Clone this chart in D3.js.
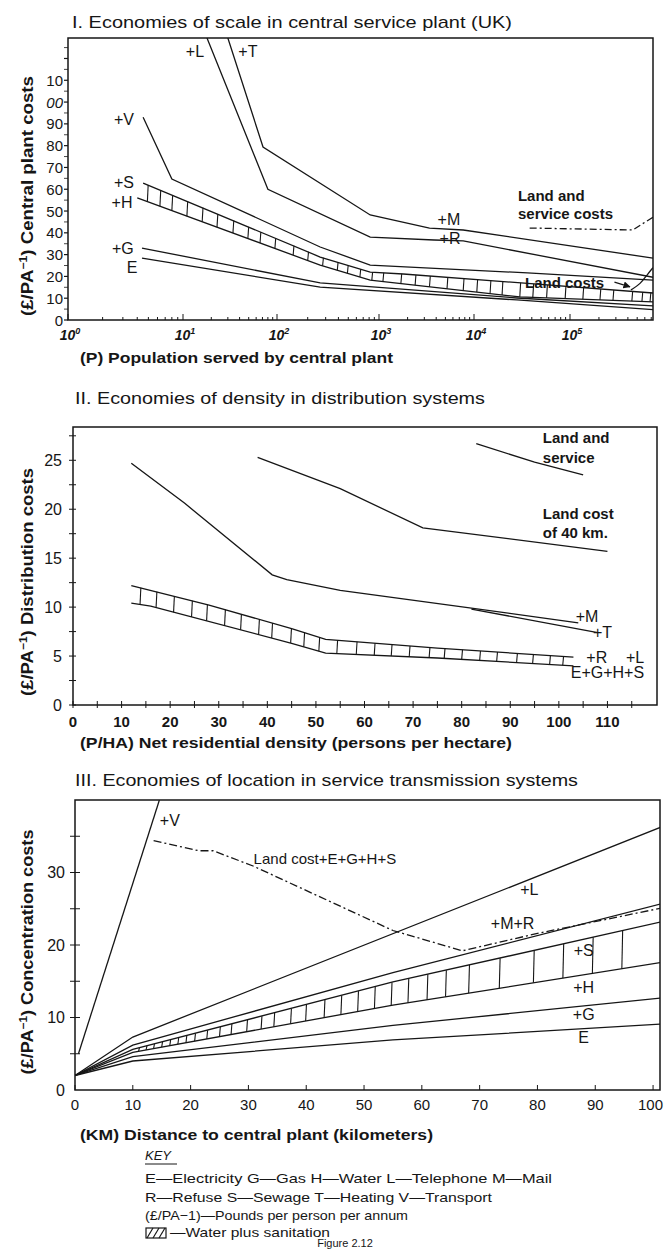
<!DOCTYPE html>
<html>
<head>
<meta charset="utf-8">
<script src="https://cdn.jsdelivr.net/npm/d3@7"></script>
<style>
  body { margin: 0; background: #fff; }
  svg { display: block; font-family: "Liberation Sans", Arial, Helvetica, sans-serif; }
</style>
</head>
<body>
<svg id="fig" width="664" height="1249"></svg>
<script>
// --- Panel I: economies of scale (population, log axis) ---
const p1XTicks = [1, 10, 100, 1e3, 1e4, 1e5];
const p1XMax = 7.3e5;
const p1YTicks = [0, 10, 20, 30, 40, 50, 60, 70, 80, 90, 100, 110];
const p1YLabels = ['0', '10', '20', '30', '40', '50', '60', '70', '80', '90', '00', '10'];
const p1T = [[30, 129.4], [71, 79.4], [820, 48.2], [3400, 42.2], [7700, 41.3], [7.3e5, 28.4]];
const p1L = [[18, 129.4], [80, 60], [820, 38], [3800, 36.7], [7700, 36.3], [7.3e5, 19.6]];
const p1V = [[4.5, 93], [8, 64.7], [265, 33.5], [820, 25.2], [36000, 21.6], [7.3e5, 18.3]];
const p1S = [[4.5, 62.8], [265, 28.9], [820, 22], [1800, 21.1], [7.3e5, 12.4]];
const p1H = [[4, 56], [265, 25.2], [820, 18.3], [30000, 10.6], [7.3e5, 8.3]];
const p1G = [[4.4, 33], [265, 17], [28000, 10.1], [7.3e5, 6.5]];
const p1E = [[4.4, 28.4], [265, 15.1], [28000, 9.2], [7.3e5, 4.8]];
const p1LandService = [[38000, 42.2], [450000, 41.3], [7.3e5, 47.2]];
const p1LandCost = [[430000, 13.8], [540000, 16.5], [640000, 21], [7.3e5, 24]];
const p1Hatch = [4.9, 6.3, 8, 11, 16, 23, 34, 49, 66, 95, 144, 200, 280, 390, 490, 650, 850, 1100,
  1700, 2400, 3400, 5200, 7700, 10700, 14700, 19600, 30000, 41000, 57000, 89000, 136000, 205000,
  280000, 440000, 560000, 680000];
const p1Marks = [['+L', 13.4, 123], ['+T', 49, 123], ['+V', 3.07, 92.2], ['+S', 3.07, 63.3],
  ['+H', 2.95, 53.7], ['+G', 3.0, 33], ['E', 3.6, 24.3], ['+M', 5450, 45.9], ['+R', 5600, 37.6]];

// --- Panel II: economies of density ---
const p2XTicks = [0, 10, 20, 30, 40, 50, 60, 70, 80, 90, 100, 110];
const p2YTicks = [0, 5, 10, 15, 20, 25];
const p2LandService = [[83, 26.7], [95, 24.8], [105, 23.5]];
const p2LandCost40 = [[38, 25.3], [55, 22.1], [72, 18.1], [110, 15.7]];
const p2M = [[12, 24.7], [23, 20.6], [41, 13.3], [44, 12.8], [55, 11.7], [82, 9.9], [104, 8.4]];
const p2T = [[82, 9.8], [108, 7.4]];
const p2HatchTop = [[12, 12.2], [28, 10.2], [45, 7.8], [52, 6.7], [75, 5.8], [103, 4.9]];
const p2HatchBottom = [[12, 10.4], [16, 10.1], [45, 6.3], [52, 5.3], [75, 4.8], [103, 4.0]];
const p2Hatch = [13.8, 17.1, 20.7, 24.4, 27.5, 31.2, 34.5, 38.2, 40.9, 44.8, 47.5, 50.6, 54.3, 58.3,
  62, 65.5, 69.2, 73.3, 76.4, 80, 83.7, 87.2, 91.3, 94.6, 98.1, 100.8];
const p2Marks = [['+M', 105.8, 9.0], ['+T', 109, 7.4], ['+R', 107.8, 4.9], ['+L', 115.7, 4.9],
  ['E+G+H+S', 110, 3.3]];

// --- Panel III: economies of location ---
const p3XTicks = [0, 10, 20, 30, 40, 50, 60, 70, 80, 90, 100];
const p3YTicks = [0, 10, 20, 30];
const p3V = [[0.6, 5], [14.6, 40]];
const p3L = [[0, 2], [10, 7.3], [101.5, 36.3]];
const p3MR = [[0, 2], [10, 6.2], [55, 16.2], [101.5, 25.7]];
const p3S = [[0, 2], [10, 5.6], [55, 14.9], [101.5, 23.2]];
const p3H = [[0, 2], [10, 5.2], [55, 11.7], [101.5, 17.6]];
const p3G = [[0, 2], [10, 4.6], [55, 8.9], [101.5, 12.7]];
const p3E = [[0, 2], [10, 4.0], [55, 6.9], [101.5, 9.1]];
const p3LandCost = [[13.6, 34.4], [21.4, 33.0], [23.9, 33.0], [30.8, 30.9], [55, 22], [67, 19.2],
  [80, 21.6], [101.5, 25.1]];
const p3Hatch = [11, 12.3, 13.6, 15, 16.4, 17.8, 19.2, 20.7, 22.8, 25, 27, 29.7, 32.2, 34.4, 37.3,
  39.9, 43.1, 46, 48.9, 51.8, 54.7, 57.6, 60.9, 64.1, 68.1, 73.4, 79.3, 84.4, 89.5, 94.6];
const p3Marks = [['+V', 16.4, 37.2], ['+L', 78.6, 27.6], ['+M+R', 75.7, 22.9], ['+S', 88, 19.3],
  ['+H', 88, 14.2], ['+G', 88, 10.4], ['E', 88, 7.3]];

const keyLines = [
  'E\u2014Electricity   G\u2014Gas   H\u2014Water   L\u2014Telephone   M\u2014Mail',
  'R\u2014Refuse   S\u2014Sewage   T\u2014Heating   V\u2014Transport',
  '(\u00a3/PA\u22121)\u2014Pounds per person per annum'
];

const svg = d3.select('#fig');
const INK = '#161616';

// --- helpers ---
function txt(g, s, x, y, o = {}) {
  const t = g.append('text').attr('x', x).attr('y', y).text(s)
    .attr('fill', INK).attr('font-size', o.size || 15);
  if (o.weight) t.attr('font-weight', o.weight);
  if (o.anchor) t.attr('text-anchor', o.anchor);
  if (o.italic) t.attr('font-style', 'italic');
  if (o.mid) t.attr('dominant-baseline', 'central');
  if (o.len) t.attr('textLength', o.len).attr('lengthAdjust', 'spacingAndGlyphs');
  return t;
}

function path(g, pts, sx, sy, dash, curve) {
  g.append('path').datum(pts)
    .attr('d', d3.line().x(d => sx(d[0])).y(d => sy(d[1])).curve(curve || d3.curveLinear))
    .attr('fill', 'none').attr('stroke', INK).attr('stroke-width', 1.3)
    .attr('stroke-dasharray', dash || null);
}

function yAt(pts, px) {
  for (let i = 0; i < pts.length - 1; i++) {
    const a = pts[i], b = pts[i + 1];
    if (px >= a[0] && px <= b[0]) return a[1] + (b[1] - a[1]) * (px - a[0]) / (b[0] - a[0]);
  }
  return null;
}

// vertical hatching between two lines (water plus sanitation band)
function hatch(g, top, bot, xs, sx, sy) {
  const tp = top.map(d => [sx(d[0]), sy(d[1])]);
  const bp = bot.map(d => [sx(d[0]), sy(d[1])]);
  xs.forEach(v => {
    const px = sx(v), ya = yAt(tp, px), yb = yAt(bp, px);
    if (ya == null || yb == null) return;
    g.append('line').attr('x1', px + 0.8).attr('x2', px).attr('y1', ya).attr('y2', yb)
      .attr('stroke', INK).attr('stroke-width', 1.1);
  });
}

function frame(g, sx, sy, id) {
  const r = sx.range(), d = sy.range();
  const x0 = r[0], x1 = r[r.length - 1], y0 = d[0], y1 = d[1];
  g.append('rect').attr('x', x0).attr('y', y1).attr('width', x1 - x0).attr('height', y0 - y1)
    .attr('fill', 'none').attr('stroke', INK).attr('stroke-width', 1.5);
  svg.append('clipPath').attr('id', id).append('rect')
    .attr('x', x0).attr('y', y1).attr('width', x1 - x0).attr('height', y0 - y1);
  return g.append('g').attr('clip-path', `url(#${id})`);
}

function marks(g, list, sx, sy, size) {
  list.forEach(m => txt(g, m[0], sx(m[1]), sy(m[2]), { anchor: 'middle', mid: true, size: size || 16 }));
}

function yTitle(rest, cx, cy, size, len) {
  const t = svg.append('text').attr('transform', `translate(${cx},${cy}) rotate(-90)`)
    .attr('text-anchor', 'middle').attr('font-weight', 'bold').attr('font-size', size).attr('fill', INK)
    .attr('textLength', len).attr('lengthAdjust', 'spacingAndGlyphs');
  t.append('tspan').text('(\u00a3/PA');
  t.append('tspan').text('\u22121').attr('font-size', size * 0.65).attr('dy', -6);
  t.append('tspan').text(') ' + rest).attr('dy', 6);
}

// --- Panel I ---
const x1 = d3.scaleLog().domain([...p1XTicks, p1XMax]).range([68, 183, 277, 379, 474, 570, 653]);
const y1 = d3.scaleLinear().domain([0, 129.4]).range([320, 38]);
const g1 = svg.append('g');
txt(g1, 'I. Economies of scale in central service plant (UK)', 72, 28, { size: 17, len: 440 });
const c1 = frame(g1, x1, y1, 'clip1');

d3.range(0, 126, 5).forEach(v => {
  g1.append('line').attr('x1', 64).attr('x2', 68).attr('y1', y1(v)).attr('y2', y1(v))
    .attr('stroke', INK).attr('stroke-width', v % 10 ? 0.8 : 1.2);
});
p1YTicks.forEach((v, i) => txt(g1, p1YLabels[i], 63, y1(v), {
  anchor: 'end', mid: true, size: 15, italic: p1YLabels[i] === '00'
}));
// log minor ticks
p1XTicks.forEach(t => d3.range(1, 10).forEach(m => {
  const v = t * m;
  if (v > p1XMax) return;
  g1.append('line').attr('x1', x1(v)).attr('x2', x1(v)).attr('y1', 320).attr('y2', m === 1 ? 314 : 317)
    .attr('stroke', INK).attr('stroke-width', 1);
}));
p1XTicks.forEach((v, i) => {
  const t = g1.append('text').attr('x', x1(v) + 2).attr('y', 340).attr('text-anchor', 'middle')
    .attr('font-size', 14).attr('font-style', 'italic').attr('font-weight', 'bold').attr('fill', INK);
  t.append('tspan').text('10');
  t.append('tspan').text(i).attr('font-size', 9).attr('dy', -6);
});
txt(g1, '(P) Population served by central plant', 80, 363, { size: 15, weight: 'bold', len: 313 });
yTitle('Central plant costs', 33, 196, 16.5, 240);

[p1T, p1L, p1V, p1S, p1H, p1G, p1E].forEach(d => path(c1, d, x1, y1));
path(c1, p1LandService, x1, y1, '7 3 2 3');
path(c1, p1LandCost, x1, y1, null, d3.curveBasis);
hatch(c1, p1S, p1H, p1Hatch, x1, y1);
marks(g1, p1Marks, x1, y1, 16);
txt(g1, 'Land and', x1(28700), y1(57.3), { mid: true, size: 15, weight: 'bold' });
txt(g1, 'service costs', x1(28700), y1(49), { mid: true, size: 15, weight: 'bold' });
txt(g1, 'Land costs', x1(34000), y1(17.4), { mid: true, size: 15, weight: 'bold' });
svg.append('defs').append('marker').attr('id', 'arr').attr('viewBox', '0 0 10 10').attr('refX', 9).attr('refY', 5)
  .attr('markerWidth', 6).attr('markerHeight', 6).attr('orient', 'auto')
  .append('path').attr('d', 'M0,0 L10,5 L0,10 z').attr('fill', INK);
g1.append('line').attr('x1', x1(290000)).attr('y1', y1(17.4)).attr('x2', x1(420000)).attr('y2', y1(15.2))
  .attr('stroke', INK).attr('stroke-width', 1.2).attr('marker-end', 'url(#arr)');

// --- Panel II ---
const x2 = d3.scaleLinear().domain([0, 120.2]).range([73, 657]);
const y2 = d3.scaleLinear().domain([0, 28.4]).range([705, 427]);
const g2 = svg.append('g');
txt(g2, 'II. Economies of density in distribution systems', 75, 404, { size: 17, len: 410 });
const c2 = frame(g2, x2, y2, 'clip2');
d3.range(0, 27.6, 2.5).forEach(v => {
  g2.append('line').attr('x1', 69).attr('x2', 76).attr('y1', y2(v)).attr('y2', y2(v))
    .attr('stroke', INK).attr('stroke-width', 1);
});
p2YTicks.forEach(v => txt(g2, String(v), 62, y2(v), { anchor: 'end', mid: true, size: 16 }));
d3.range(0, 120, 5).forEach(v => {
  g2.append('line').attr('x1', x2(v)).attr('x2', x2(v)).attr('y1', 701).attr('y2', 708)
    .attr('stroke', INK).attr('stroke-width', 1);
});
p2XTicks.forEach(v => txt(g2, String(v), x2(v), 727, { anchor: 'middle', size: 15, weight: 'bold' }));
txt(g2, '(P/HA) Net residential density (persons per hectare)', 80, 748, { size: 15, weight: 'bold', len: 432 });
yTitle('Distribution costs', 33, 582, 16.5, 228);

[p2LandService, p2LandCost40, p2M, p2T, p2HatchTop, p2HatchBottom].forEach(d => path(c2, d, x2, y2));
hatch(c2, p2HatchTop, p2HatchBottom, p2Hatch, x2, y2);
marks(g2, p2Marks, x2, y2, 16);
txt(g2, 'Land and', x2(96.7), y2(27.3), { mid: true, size: 15, weight: 'bold' });
txt(g2, 'service', x2(96.7), y2(25.3), { mid: true, size: 15, weight: 'bold' });
txt(g2, 'Land cost', x2(96.7), y2(19.6), { mid: true, size: 15, weight: 'bold' });
txt(g2, 'of 40 km.', x2(96.7), y2(17.6), { mid: true, size: 15, weight: 'bold' });

// --- Panel III ---
const x3 = d3.scaleLinear().domain([0, 101.2]).range([75, 660]);
const y3 = d3.scaleLinear().domain([0, 40]).range([1090, 800]);
const g3 = svg.append('g');
txt(g3, 'III. Economies of location in service transmission systems', 75, 786, { size: 17, len: 503 });
const c3 = frame(g3, x3, y3, 'clip3');
d3.range(5, 40, 5).forEach(v => {
  g3.append('line').attr('x1', 70).attr('x2', 80).attr('y1', y3(v)).attr('y2', y3(v))
    .attr('stroke', INK).attr('stroke-width', 1);
});
p3YTicks.forEach(v => txt(g3, String(v), 65, y3(v), { anchor: 'end', mid: true, size: 16 }));
p3XTicks.forEach((v, i) => {
  g3.append('line').attr('x1', x3(v)).attr('x2', x3(v)).attr('y1', 1085).attr('y2', 1090)
    .attr('stroke', INK).attr('stroke-width', 1);
  const last = i === p3XTicks.length - 1;
  txt(g3, String(v), last ? 663 : x3(v), 1110, { anchor: last ? 'end' : 'middle', size: 15 });
});
txt(g3, '(KM) Distance to central plant (kilometers)', 80, 1140, { size: 15, weight: 'bold', len: 353 });
yTitle('Concentration costs', 33, 952, 16.5, 245);

[p3V, p3L, p3MR, p3S, p3H, p3G, p3E].forEach(d => path(c3, d, x3, y3));
path(c3, p3LandCost, x3, y3, '8 3 2 3');
hatch(c3, p3S, p3H, p3Hatch, x3, y3);
marks(g3, p3Marks, x3, y3, 16);
txt(g3, 'Land cost+E+G+H+S', x3(30.9), y3(32.0), { mid: true, size: 15 });

// --- Key ---
const gk = svg.append('g');
txt(gk, 'KEY', 145, 1160, { size: 13, italic: true });
gk.append('line').attr('x1', 145).attr('x2', 177).attr('y1', 1164).attr('y2', 1164).attr('stroke', INK);
txt(gk, keyLines[0], 145, 1183, { size: 13, len: 407 });
txt(gk, keyLines[1], 145, 1202, { size: 13, len: 347 });
txt(gk, keyLines[2], 145, 1220, { size: 13, len: 263 });
gk.append('rect').attr('x', 146).attr('y', 1228).attr('width', 20).attr('height', 10)
  .attr('fill', 'none').attr('stroke', INK).attr('stroke-width', 1.2);
[150, 156, 162].forEach(x => gk.append('line').attr('x1', x - 3).attr('y1', 1238).attr('x2', x + 3).attr('y2', 1228)
  .attr('stroke', INK).attr('stroke-width', 1.2));
txt(gk, '\u2014Water plus sanitation', 170, 1237, { size: 13, len: 160 });
txt(gk, 'Figure 2.12', 345, 1247, { size: 11, anchor: 'middle' });
</script>
</body>
</html>
